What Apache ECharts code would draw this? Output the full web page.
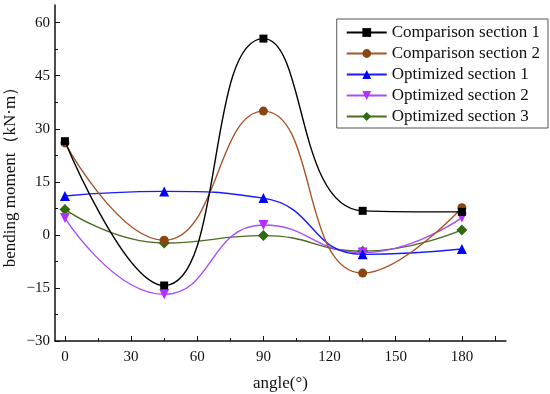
<!DOCTYPE html>
<html>
<head>
<meta charset="utf-8">
<script src="https://cdn.jsdelivr.net/npm/echarts@6/dist/echarts.min.js"></script>
<style>html,body{margin:0;padding:0;background:#fff}#c{width:550px;height:394px}</style>
</head>
<body>
<div id="c"></div>
<script>
var angles = [0, 45, 90, 135, 180];
var comparison1 = [26.5, -14.3, 55.5, 6.8, 6.5];
var comparison2 = [26, -1.5, 35, -10.8, 7.7];
var optimized1 = [11, 12.3, 10.4, -5.5, -4];
var optimized2 = [4.8, -16.8, 2.8, -5, 4.9];
var optimized3 = [7.2, -2.3, -0.2, -4.6, 1.4];
var seriesNames = ['Comparison section 1', 'Comparison section 2', 'Optimized section 1', 'Optimized section 2', 'Optimized section 3'];
var xTicks = [0, 30, 60, 90, 120, 150, 180];
var yTicks = [-30, -15, 0, 15, 30, 45, 60];

var FONT = '"Liberation Serif","Times New Roman",serif';
function pairs(arr){ return angles.map(function(a,i){ return [a, arr[i]]; }); }
function fmt(v){ return v < 0 ? '\u2212' + Math.abs(v) : String(v); }

// data grid geometry
var GL = 55, GR = 44, GT = 5, GB = 53, W = 550, H = 394;
var XMIN = -4.5, XMAX = 200, YMIN = -30, YMAX = 65;
var pxX = (W - GL - GR) / (XMAX - XMIN);
var pxY = (H - GT - GB) / (YMAX - YMIN);
// tick grid: x from 0 to 195, y from -30 to 60
var tL = GL + (0 - XMIN) * pxX;
var tR = W - (GL + (195 - XMIN) * pxX);
var tT = GT + (YMAX - 60) * pxY;

var chart = echarts.init(document.getElementById('c'));

var styles = [
  {line:'#000000', mark:'#000000', symbol:'rect', size:8, rot:0},
  {line:'#a8552a', mark:'#8a4513', symbol:'circle', size:9, rot:0},
  {line:'#1a1aff', mark:'#0000ff', symbol:'triangle', size:10, rot:0},
  {line:'#a64dff', mark:'#b330ff', symbol:'triangle', size:10, rot:180},
  {line:'#4a6b20', mark:'#2e6a12', symbol:'diamond', size:11, rot:0}
];
var data = [comparison1, comparison2, optimized1, optimized2, optimized3];
var tickStyle = {color:'#111', width:1};
var labStyle = {fontFamily:FONT, fontSize:15, color:'#111'};

chart.setOption({
  animation:false,
  backgroundColor:'#fff',
  grid:[
    {left:GL, right:GR, top:GT, bottom:GB, containLabel:false, outerBoundsMode:'none'},
    {left:tL, right:tR, top:tT, bottom:GB, containLabel:false, outerBoundsMode:'none'}
  ],
  legend:{
    orient:'vertical', right:2, top:19,
    itemWidth:40, itemHeight:11, itemGap:4,
    padding:[5,8,3,9],
    borderColor:'#555', borderWidth:1,
    textStyle:{fontFamily:FONT, fontSize:17, color:'#111'},
    data:seriesNames
  },
  xAxis:[
    {type:'value', gridIndex:0, position:'bottom', min:XMIN, max:XMAX,
      name:'angle(°)', nameLocation:'middle', nameGap:34,
      nameTextStyle:{fontFamily:FONT, fontSize:17, color:'#111'},
      axisLine:{show:true, onZero:false, lineStyle:{color:'#111', width:1.5}},
      axisTick:{show:false}, axisLabel:{show:false}, splitLine:{show:false}},
    {type:'value', gridIndex:1, position:'bottom', min:0, max:195, interval:30,
      axisLine:{show:false, onZero:false},
      axisTick:{show:true, inside:true, length:5, lineStyle:tickStyle},
      axisLabel:Object.assign({}, labStyle, {margin:9,
        formatter:function(v){ return xTicks.indexOf(v) >= 0 ? fmt(v) : ''; }}),
      splitLine:{show:false}},
    {type:'value', gridIndex:1, position:'bottom', min:0, max:195, interval:15,
      axisLine:{show:false, onZero:false},
      axisTick:{show:true, inside:true, length:3, lineStyle:tickStyle},
      axisLabel:{show:false}, splitLine:{show:false}}
  ],
  yAxis:[
    {type:'value', gridIndex:0, position:'left', min:YMIN, max:YMAX,
      name:'bending moment（kN·m）', nameLocation:'middle', nameGap:36,
      nameTextStyle:{fontFamily:FONT, fontSize:17, color:'#111'},
      axisLine:{show:true, onZero:false, lineStyle:{color:'#111', width:1.5}},
      axisTick:{show:false}, axisLabel:{show:false}, splitLine:{show:false}},
    {type:'value', gridIndex:1, position:'left', min:-30, max:60, interval:15,
      axisLine:{show:false, onZero:false}, offset:tL - GL,
      axisTick:{show:true, inside:true, length:5, lineStyle:tickStyle},
      axisLabel:Object.assign({}, labStyle, {margin:5,
        formatter:function(v){ return yTicks.indexOf(v) >= 0 ? fmt(v) : ''; }}),
      splitLine:{show:false}},
    {type:'value', gridIndex:1, position:'left', min:-30, max:60, interval:7.5,
      axisLine:{show:false, onZero:false}, offset:tL - GL,
      axisTick:{show:true, inside:true, length:3, lineStyle:tickStyle},
      axisLabel:{show:false}, splitLine:{show:false}}
  ],
  series: data.map(function(arr, i){
    var s = styles[i];
    return {
      name:seriesNames[i], type:'line', xAxisIndex:0, yAxisIndex:0,
      data:pairs(arr), smooth:0.5,
      symbol:s.symbol, symbolSize:s.size, symbolRotate:s.rot,
      itemStyle:{color:s.mark},
      lineStyle:{color:s.line, width:1.4},
      z: 10 - i
    };
  })
});
</script>
</body>
</html>
